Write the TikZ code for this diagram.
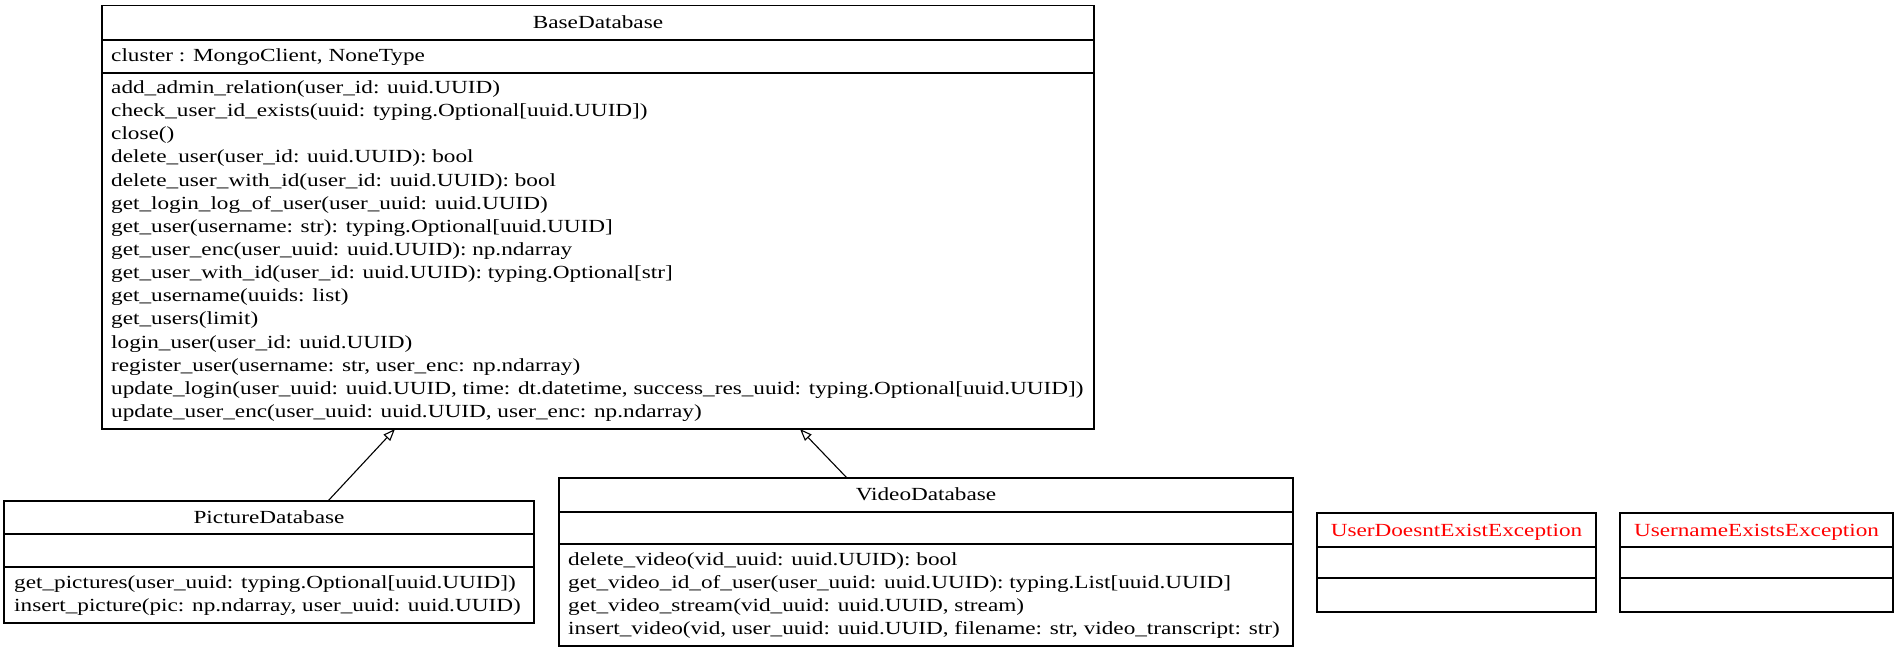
\documentclass[tikz,border=0pt]{standalone}
\usepackage{fontspec}
\setmainfont{Liberation Serif}[FakeStretch=1.255]
\usetikzlibrary{arrows.meta}
\definecolor{excred}{RGB}{255,0,0}
\begin{document}
\begin{tikzpicture}[x=1pt,y=-1pt,
  classbox/.style={draw=black, line width=1.3pt, inner sep=0pt, fill=white},
  sepline/.style={draw=black, line width=1.3pt},
  txt/.style={inner sep=0pt, font=\fontsize{18.5}{23.14}\selectfont},
  title/.style={txt, anchor=base},
  member/.style={txt, anchor=base west},
  extends/.style={draw=black, line width=1.1pt, -{Triangle[open, length=12pt, width=9pt]}}]

\useasboundingbox (0,0) rectangle (1899,653);

% ---------- BaseDatabase ----------
\node[classbox, minimum width=992pt, minimum height=423.5pt] (base) at (598,217.25) {};
\draw[sepline] (base.west |- 0,40) -- (base.east |- 0,40);
\draw[sepline] (base.west |- 0,73) -- (base.east |- 0,73);
\node[title] (base-t) at (598,28.8) {BaseDatabase};
\node[member] (base-a) at (111,61.5) {cluster : MongoClient, NoneType};
\foreach \t [count=\i from 0] in {
  {add\_admin\_relation(user\_id: uuid.UUID)},
  {check\_user\_id\_exists(uuid: typing.Optional[uuid.UUID])},
  {close()},
  {delete\_user(user\_id: uuid.UUID): bool},
  {delete\_user\_with\_id(user\_id: uuid.UUID): bool},
  {get\_login\_log\_of\_user(user\_uuid: uuid.UUID)},
  {get\_user(username: str): typing.Optional[uuid.UUID]},
  {get\_user\_enc(user\_uuid: uuid.UUID): np.ndarray},
  {get\_user\_with\_id(user\_id: uuid.UUID): typing.Optional[str]},
  {get\_username(uuids: list)},
  {get\_users(limit)},
  {login\_user(user\_id: uuid.UUID)},
  {register\_user(username: str, user\_enc: np.ndarray)},
  {update\_login(user\_uuid: uuid.UUID, time: dt.datetime, success\_res\_uuid: typing.Optional[uuid.UUID])},
  {update\_user\_enc(user\_uuid: uuid.UUID, user\_enc: np.ndarray)}}
  \node[member] (base-m\i) at (111,{93.5+\i*23.14}) {\t};

% ---------- PictureDatabase ----------
\node[classbox, minimum width=530pt, minimum height=122pt] (pic) at (269,562) {};
\draw[sepline] (pic.west |- 0,534) -- (pic.east |- 0,534);
\draw[sepline] (pic.west |- 0,567) -- (pic.east |- 0,567);
\node[title] (pic-t) at (269,523.5) {PictureDatabase};
\node[member] (pic-m0) at (14,588.5) {get\_pictures(user\_uuid: typing.Optional[uuid.UUID])};
\node[member] (pic-m1) at (14,611.6) {insert\_picture(pic: np.ndarray, user\_uuid: uuid.UUID)};

% ---------- VideoDatabase ----------
\node[classbox, minimum width=734pt, minimum height=168pt] (vid) at (926,562) {};
\draw[sepline] (vid.west |- 0,512) -- (vid.east |- 0,512);
\draw[sepline] (vid.west |- 0,544) -- (vid.east |- 0,544);
\node[title] (vid-t) at (926,500.5) {VideoDatabase};
\foreach \t [count=\i from 0] in {
  {delete\_video(vid\_uuid: uuid.UUID): bool},
  {get\_video\_id\_of\_user(user\_uuid: uuid.UUID): typing.List[uuid.UUID]},
  {get\_video\_stream(vid\_uuid: uuid.UUID, stream)},
  {insert\_video(vid, user\_uuid: uuid.UUID, filename: str, video\_transcript: str)}}
  \node[member] (vid-m\i) at (568,{565+\i*23.14}) {\t};

% ---------- Exceptions ----------
\node[classbox, minimum width=279pt, minimum height=99pt] (udne) at (1456.5,562.5) {};
\draw[sepline] (udne.west |- 0,547) -- (udne.east |- 0,547);
\draw[sepline] (udne.west |- 0,578) -- (udne.east |- 0,578);
\node[title, text=excred] (udne-t) at (1456.5,536) {UserDoesntExistException};

\node[classbox, minimum width=273pt, minimum height=99pt] (uee) at (1756.5,562.5) {};
\draw[sepline] (uee.west |- 0,547) -- (uee.east |- 0,547);
\draw[sepline] (uee.west |- 0,578) -- (uee.east |- 0,578);
\node[title, text=excred] (uee-t) at (1756.5,536) {UsernameExistsException};

% ---------- inheritance ----------
\coordinate (pic-up) at (328,501);
\coordinate (base-in1) at (395,429);
\coordinate (vid-up) at (847,478);
\coordinate (base-in2) at (800,429);
\draw[extends] (pic-up) -- (base-in1);
\draw[extends] (vid-up) -- (base-in2);
\end{tikzpicture}
\end{document}
